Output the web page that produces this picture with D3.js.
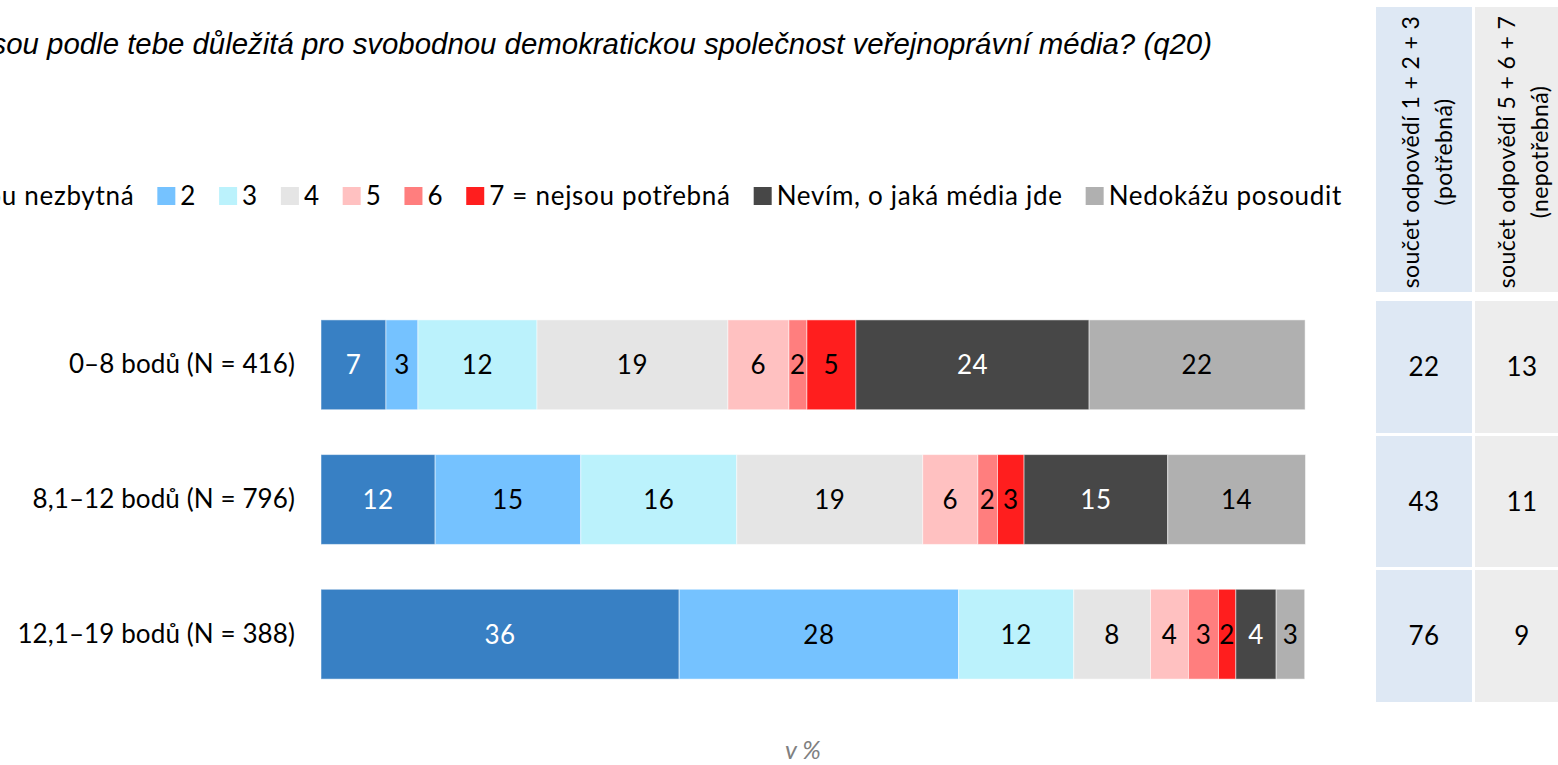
<!DOCTYPE html>
<html>
<head>
<meta charset="utf-8">
<script src="https://cdn.jsdelivr.net/npm/d3@7"></script>
<style>
  html, body { margin: 0; padding: 0; background: #fff; overflow: hidden; }
  svg { display: block; }
</style>
</head>
<body>
<svg id="chart" width="1558" height="765"></svg>
<script>
// data
var categories = ["0–8 bodů (N = 416)", "8,1–12 bodů (N = 796)", "12,1–19 bodů (N = 388)"];
var seriesNames = ["1 = jsou nezbytná", "2", "3", "4", "5", "6", "7 = nejsou potřebná", "Nevím, o jaká média jde", "Nedokážu posoudit"];
var seriesColors = ["#3880c4", "#75c2ff", "#bbf2fc", "#e5e5e5", "#ffc1c1", "#ff7e7e", "#ff1e1e", "#474747", "#b0b0b0"];
var row1 = [6.6, 3.25, 12.1, 19.4, 6.2, 1.83, 4.98, 23.7, 21.95];
var row2 = [11.6, 14.8, 15.85, 18.9, 5.6, 2.0, 2.7, 14.6, 14.0];
var row3 = [36.4, 28.4, 11.7, 7.8, 3.86, 3.05, 1.76, 4.1, 2.9];
var values = [row1, row2, row3];
var sumNeeded = [22, 43, 76];
var sumNotNeeded = [13, 11, 9];
var titleText = "Jsou podle tebe důležitá pro svobodnou demokratickou společnost veřejnoprávní média? (q20)";
var sumHeaders = [["součet odpovědí 1 + 2 + 3", "(potřebná)"], ["součet odpovědí 5 + 6 + 7", "(nepotřebná)"]];

var font = "Lato, 'Noto Sans', sans-serif";
var svg = d3.select("#chart");

function bodyText(sel, size, ls) {
  return sel.style("font-family", font)
    .style("font-size", size + "px")
    .style("letter-spacing", (ls === undefined ? 0.5 : ls) + "px");
}

// title (clipped on the left like the original)
svg.append("text")
  .attr("x", 1212)
  .attr("y", 54)
  .attr("text-anchor", "end")
  .style("font-family", "'Liberation Sans', Arial, sans-serif")
  .style("font-style", "italic")
  .style("font-size", "29.4px")
  .text(titleText);

// legend, laid out from the right end
var legend = svg.append("g").attr("class", "legend");
var legX = 1342;
for (var i = seriesNames.length - 1; i >= 0; i--) {
  var t = bodyText(legend.append("text"), 26, 0.7)
    .attr("y", 205)
    .text(seriesNames[i]);
  var w = t.node().getComputedTextLength();
  legX -= w;
  t.attr("x", legX);
  legend.append("rect")
    .attr("x", legX - 23)
    .attr("y", 187)
    .attr("width", 18)
    .attr("height", 18)
    .attr("fill", seriesColors[i]);
  legX -= 23 + 23;
}

// bars
var x = d3.scaleLinear().domain([0, 100]).range([321, 1305]);
var y = d3.scaleBand().domain(categories).range([297, 702]).paddingInner(0.333).paddingOuter(0.17);

var rows = svg.append("g").selectAll(".row")
  .data(categories)
  .enter().append("g")
  .attr("class", "row");

rows.each(function (cat, r) {
  var g = d3.select(this);
  var acc = 0;
  var segs = values[r].map(function (v, k) {
    var s = {start: acc, v: v, k: k};
    acc += v;
    return s;
  });
  g.selectAll("rect").data(segs).enter().append("rect")
    .attr("x", function (d) { return x(d.start); })
    .attr("y", y(cat))
    .attr("width", function (d) { return x(d.start + d.v) - x(d.start); })
    .attr("height", y.bandwidth())
    .attr("fill", function (d) { return seriesColors[d.k]; })
    .attr("stroke", "#fff")
    .attr("stroke-opacity", 0.5)
    .attr("stroke-width", 1);
  bodyText(g.selectAll("text.val").data(segs).enter().append("text"), 26)
    .attr("class", "val")
    .attr("x", function (d) { return (x(d.start) + x(d.start + d.v)) / 2; })
    .attr("y", y(cat) + y.bandwidth() / 2)
    .attr("dy", "0.36em")
    .attr("text-anchor", "middle")
    .attr("fill", function (d) { return (d.k === 0 || d.k === 7) ? "#fff" : "#000"; })
    .text(function (d) { return Math.round(d.v); });
});

// category axis
var yAxis = svg.append("g")
  .attr("transform", "translate(303,0)")
  .call(d3.axisLeft(y).tickSize(0).tickPadding(8));
yAxis.select(".domain").remove();
bodyText(yAxis.selectAll("text"), 26, 0.1)
  .attr("fill", "#000");

// right side summary table
var cols = [{x0: 1376, x1: 1472, fill: "#dee8f4", vals: sumNeeded},
            {x0: 1475, x1: 1570, fill: "#ededed", vals: sumNotNeeded}];
var rowBands = [[301, 433], [436, 567], [570, 702]];
var table = svg.append("g");
cols.forEach(function (c, ci) {
  table.append("rect")
    .attr("x", c.x0).attr("y", 7)
    .attr("width", c.x1 - c.x0).attr("height", 285)
    .attr("fill", c.fill);
  var cx = ci === 0 ? 1429 : 1525;
  sumHeaders[ci].forEach(function (line, li) {
    table.append("text")
      .attr("transform", "translate(" + (cx - 10 + li * 33) + ",152) rotate(-90)")
      .attr("text-anchor", "middle")
      .style("font-family", font)
      .style("font-size", "23px")
      .style("letter-spacing", "0.4px")
      .text(line);
  });
  rowBands.forEach(function (b, ri) {
    table.append("rect")
      .attr("x", c.x0).attr("y", b[0])
      .attr("width", c.x1 - c.x0).attr("height", b[1] - b[0])
      .attr("fill", c.fill);
    bodyText(table.append("text"), 26)
      .attr("x", ci === 0 ? 1424 : 1522)
      .attr("y", (b[0] + b[1]) / 2)
      .attr("dy", "0.36em")
      .attr("text-anchor", "middle")
      .text(c.vals[ri]);
  });
});

// footnote
svg.append("text")
  .attr("x", 803)
  .attr("y", 759)
  .attr("text-anchor", "middle")
  .style("font-family", font)
  .style("font-style", "italic")
  .style("font-size", "25px")
  .attr("fill", "#808080")
  .text("v %");
</script>
</body>
</html>
